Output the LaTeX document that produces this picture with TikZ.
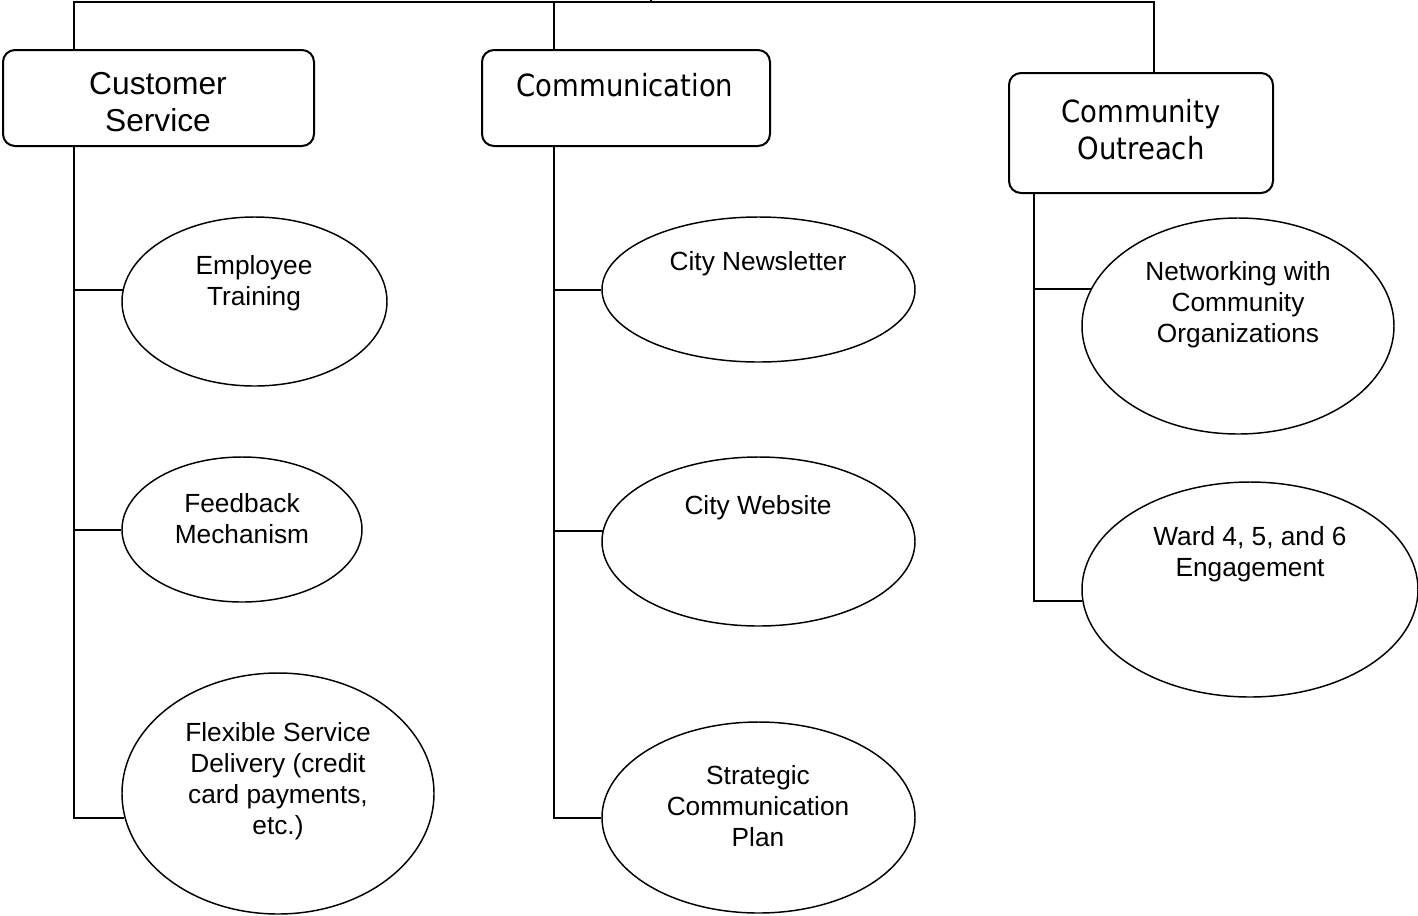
\documentclass[tikz,border=0pt]{standalone}
\usepackage{fontspec}
\setmainfont{Liberation Sans}
\newfontfamily\tahomafont[FakeStretch=0.9]{DejaVu Sans}
\usetikzlibrary{shapes.geometric}
\begin{document}
\begin{tikzpicture}[x=0.75pt,y=-0.75pt,
  conn/.style={line width=1.5pt},
  catbox/.style={draw,line width=1.5pt,rounded corners=9pt,rectangle,inner sep=0pt},
  oval/.style={draw,ellipse,line width=1.1pt,inner sep=0pt},
  lbl/.style={align=center,inner sep=0pt,font=\fontsize{19.7}{23.25}\selectfont},
  biglbl/.style={align=center,inner sep=0pt,font=\fontsize{23.8}{27.75}\selectfont},
  tlbl/.style={align=center,inner sep=0pt,font=\tahomafont\fontsize{22.9}{27.75}\selectfont}]
\useasboundingbox (0,0) rectangle (1418,915);

% category boxes
\node[catbox,minimum width=233.25pt,minimum height=72pt] (cs) at (158.5,98) {};
\node[catbox,minimum width=216pt,minimum height=72pt] (cm) at (626,98) {};
\node[catbox,minimum width=198pt,minimum height=90pt] (co) at (1141,133) {};

% ellipses
\node[oval,minimum width=198.75pt,minimum height=126.75pt] (et) at (254.5,301.5) {};
\node[oval,minimum width=180pt,minimum height=108.75pt] (fb) at (242,529.5) {};
\node[oval,minimum width=234pt,minimum height=180.75pt] (fl) at (278,793.5) {};
\node[oval,minimum width=234.75pt,minimum height=108.75pt] (nl) at (758.5,289.5) {};
\node[oval,minimum width=234.75pt,minimum height=126.75pt] (ws) at (758.5,541.5) {};
\node[oval,minimum width=234.75pt,minimum height=143.25pt] (sp) at (758.5,817.5) {};
\node[oval,minimum width=234pt,minimum height=162pt] (nw) at (1238,326) {};
\node[oval,minimum width=252pt,minimum height=161.25pt] (wd) at (1250,589.5) {};

% texts
\node[biglbl] (cst) at (158,102) {Customer\\Service};
\node[tlbl] (cmt) at (625,85) {Communication};
\node[tlbl] (cot) at (1141,130) {Community\\Outreach};
\node[lbl] (ett) at (254,283) {Employee\\Training};
\node[lbl] (fbt) at (242,519) {Feedback\\Mechanism};
\node[lbl] (flt) at (278,781) {Flexible Service\\Delivery (credit\\card payments,\\etc.)};
\node[lbl] (nlt) at (758,264) {City Newsletter};
\node[lbl] (wst) at (758,508) {City Website};
\node[lbl] (spt) at (758,806) {Strategic\\Communication\\Plan};
\node[lbl] (nwt) at (1238,305) {Networking with\\Community\\Organizations};
\node[lbl] (wdt) at (1250,554) {Ward 4, 5, and 6\\Engagement};

% bus at top
\coordinate (b1) at (74,2);
\coordinate (b2) at (554,2);
\coordinate (b3) at (1154,2);
\coordinate (hub) at (651,2);
\coordinate (up) at (651,-10);
\draw[conn] (b1 |- cs.north) -- (b1) -- (b3) -- (b3 |- co.north);
\draw[conn] (b2) -- (b2 |- cm.north);
\draw[conn] (up) -- (hub);

% trunks and branches
\coordinate (t1) at (74,0);
\coordinate (t2) at (554,0);
\coordinate (t3) at (1034,0);
\draw[conn] (t1 |- cs.south) |- (fl.189);
\draw[conn] (t1 |- et.175) -- (et.175);
\draw[conn] (t1 |- fb.west) -- (fb.west);

\draw[conn] (t2 |- cm.south) |- (sp.west);
\draw[conn] (t2 |- nl.west) -- (nl.west);
\draw[conn] (t2 |- ws.176) -- (ws.176);

\draw[conn] (t3 |- co.south) |- (wd.184);
\draw[conn] (t3 |- nw.166) -- (nw.166);
\end{tikzpicture}
\end{document}
